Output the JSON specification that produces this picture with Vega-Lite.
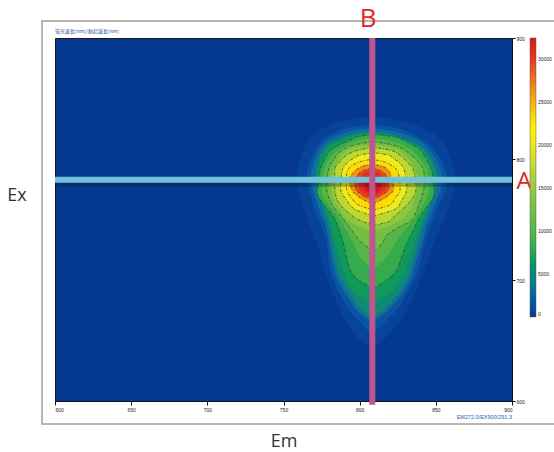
{"$schema":"https://vega.github.io/schema/vega-lite/v6.json","width":457,"height":363,"autosize":"none","padding":{"left":55,"top":38,"right":42,"bottom":51},"background":"#ffffff","view":{"fill":"#05398f","stroke":"#1a1a1a","strokeWidth":1},
"datasets":{"bands":[
{"v":800,"ex":835,"a":807.9,"b":807.9},{"v":800,"ex":832.2,"a":791.5,"b":824.3},{"v":800,"ex":824,"a":774,"b":844},{"v":800,"ex":813,"a":765.2,"b":855},{"v":800,"ex":793.7,"a":759.8,"b":861.5},{"v":800,"ex":782.6,"a":758.7,"b":862.6},{"v":800,"ex":768.9,"a":760.9,"b":860.4},{"v":800,"ex":752.3,"a":765.2,"b":856},{"v":800,"ex":730.3,"a":771.8,"b":848.4},{"v":800,"ex":702.8,"a":778.4,"b":840.7},{"v":800,"ex":675.2,"a":787.1,"b":830.9},{"v":800,"ex":653.2,"a":798.1,"b":817.8},{"v":800,"ex":644.9,"a":807.9,"b":807.9},
{"v":1500,"ex":828.1,"a":807.9,"b":807.9},{"v":1500,"ex":826.7,"a":795.9,"b":819.9},{"v":1500,"ex":824,"a":787.1,"b":828.7},{"v":1500,"ex":815.7,"a":776.2,"b":841.8},{"v":1500,"ex":804.7,"a":769.6,"b":850.6},{"v":1500,"ex":793.7,"a":766.3,"b":855.4},{"v":1500,"ex":782.6,"a":765.2,"b":857.1},{"v":1500,"ex":771.6,"a":767.4,"b":855.4},{"v":1500,"ex":757.9,"a":770.7,"b":850.6},{"v":1500,"ex":744.1,"a":775.1,"b":846.2},{"v":1500,"ex":730.3,"a":778.4,"b":842.9},{"v":1500,"ex":716.5,"a":779.5,"b":840.1},{"v":1500,"ex":702.8,"a":781.7,"b":837},{"v":1500,"ex":689,"a":786.7,"b":830.9},{"v":1500,"ex":675.2,"a":793.2,"b":824.3},{"v":1500,"ex":655,"a":807.9,"b":807.9},
{"v":3000,"ex":825.3,"a":807.9,"b":807.9},{"v":3000,"ex":823.4,"a":794.8,"b":821},{"v":3000,"ex":815.7,"a":779.5,"b":838.5},{"v":3000,"ex":804.7,"a":772.2,"b":847.3},{"v":3000,"ex":793.7,"a":769.2,"b":852.3},{"v":3000,"ex":782.6,"a":767.9,"b":854.1},{"v":3000,"ex":771.6,"a":770.1,"b":852.3},{"v":3000,"ex":757.9,"a":773.6,"b":848},{"v":3000,"ex":744.1,"a":777.9,"b":843.6},{"v":3000,"ex":730.3,"a":780,"b":841},{"v":3000,"ex":716.5,"a":781.7,"b":837.4},{"v":3000,"ex":702.8,"a":784.5,"b":834.2},{"v":3000,"ex":689,"a":790.4,"b":828.3},{"v":3000,"ex":675.2,"a":798.1,"b":818.8},{"v":3000,"ex":665,"a":807.9,"b":807.9},
{"v":5000,"ex":822.6,"a":807.9,"b":807.9},{"v":5000,"ex":820.7,"a":795.9,"b":819.9},{"v":5000,"ex":813,"a":780.6,"b":836.4},{"v":5000,"ex":804.7,"a":775.1,"b":844.4},{"v":5000,"ex":793.7,"a":771.8,"b":849.5},{"v":5000,"ex":782.6,"a":770.7,"b":851},{"v":5000,"ex":771.6,"a":772.9,"b":849.3},{"v":5000,"ex":757.9,"a":776.6,"b":845.1},{"v":5000,"ex":744.1,"a":779.6,"b":841.7},{"v":5000,"ex":730.3,"a":781.8,"b":838.5},{"v":5000,"ex":716.5,"a":783.8,"b":835.3},{"v":5000,"ex":702.8,"a":787.1,"b":832},{"v":5000,"ex":689,"a":793.7,"b":825.4},{"v":5000,"ex":675.2,"a":801.3,"b":815.6},{"v":5000,"ex":669,"a":807.9,"b":807.9},
{"v":6500,"ex":821.5,"a":807.9,"b":807.9},{"v":6500,"ex":819.6,"a":797,"b":819.9},{"v":6500,"ex":811.6,"a":781.7,"b":837.4},{"v":6500,"ex":804.7,"a":777.3,"b":842.9},{"v":6500,"ex":793.7,"a":773.6,"b":848},{"v":6500,"ex":781.3,"a":771.8,"b":849.5},{"v":6500,"ex":770.2,"a":772.9,"b":848.8},{"v":6500,"ex":757.9,"a":777.9,"b":844},{"v":6500,"ex":744.1,"a":781.3,"b":839.5},{"v":6500,"ex":730.3,"a":783.8,"b":835.7},{"v":6500,"ex":716.5,"a":787.1,"b":832},{"v":6500,"ex":702.8,"a":790.4,"b":827.6},{"v":6500,"ex":689,"a":797,"b":819.9},{"v":6500,"ex":682,"a":807.9,"b":807.9},
{"v":8000,"ex":820.4,"a":809,"b":809},{"v":8000,"ex":818.5,"a":799.2,"b":822.1},{"v":8000,"ex":815.7,"a":793.7,"b":828.7},{"v":8000,"ex":808.8,"a":782.7,"b":838.5},{"v":8000,"ex":801.9,"a":777.9,"b":842.9},{"v":8000,"ex":790.9,"a":774,"b":847.3},{"v":8000,"ex":779.9,"a":772.9,"b":848.4},{"v":8000,"ex":768.9,"a":772.9,"b":848.4},{"v":8000,"ex":752.3,"a":782.7,"b":839.6},{"v":8000,"ex":741.3,"a":786.5,"b":835.3},{"v":8000,"ex":730.3,"a":789.3,"b":830.9},{"v":8000,"ex":719.3,"a":791.5,"b":827.6},{"v":8000,"ex":708.3,"a":793.7,"b":824.3},{"v":8000,"ex":700,"a":799.2,"b":817.8},{"v":8000,"ex":693.1,"a":809,"b":809},
{"v":10000,"ex":817.1,"a":807.9,"b":807.9},{"v":10000,"ex":815.2,"a":799.2,"b":819.9},{"v":10000,"ex":810.2,"a":789.3,"b":830.9},{"v":10000,"ex":801.9,"a":781,"b":838.5},{"v":10000,"ex":790.9,"a":776.6,"b":844.4},{"v":10000,"ex":778.5,"a":775.5,"b":845.3},{"v":10000,"ex":768.9,"a":776.2,"b":844.4},{"v":10000,"ex":752.3,"a":786,"b":837},{"v":10000,"ex":741.3,"a":791.1,"b":829.8},{"v":10000,"ex":730.3,"a":795.9,"b":823.2},{"v":10000,"ex":719.3,"a":800.2,"b":817.8},{"v":10000,"ex":708.3,"a":807.9,"b":807.9},
{"v":12000,"ex":814.3,"a":809,"b":809},{"v":12000,"ex":812.4,"a":799.2,"b":818.8},{"v":12000,"ex":810.2,"a":792.6,"b":825.4},{"v":12000,"ex":806.1,"a":787.1,"b":830.9},{"v":12000,"ex":799.2,"a":782.7,"b":837.4},{"v":12000,"ex":790.9,"a":779.5,"b":841.8},{"v":12000,"ex":777.1,"a":778.4,"b":842.3},{"v":12000,"ex":768.9,"a":779.5,"b":840.7},{"v":12000,"ex":760.6,"a":782.7,"b":838.5},{"v":12000,"ex":749.6,"a":789.7,"b":834.2},{"v":12000,"ex":744.1,"a":793,"b":826.5},{"v":12000,"ex":737.2,"a":797,"b":817.8},{"v":12000,"ex":730.3,"a":801.8,"b":814.9},{"v":12000,"ex":723.4,"a":809.4,"b":809.4},
{"v":14500,"ex":811.8,"a":809,"b":809},{"v":14500,"ex":809.6,"a":795.9,"b":822.1},{"v":14500,"ex":804.7,"a":789.3,"b":828.7},{"v":14500,"ex":796.4,"a":784.9,"b":834.2},{"v":14500,"ex":782.6,"a":781,"b":838.5},{"v":14500,"ex":768.9,"a":782.3,"b":836.4},{"v":14500,"ex":757.9,"a":787.1,"b":833.1},{"v":14500,"ex":748.2,"a":793.7,"b":825.4},{"v":14500,"ex":740.1,"a":807.9,"b":807.9},
{"v":17000,"ex":809.4,"a":809,"b":809},{"v":17000,"ex":807.4,"a":799.2,"b":819.9},{"v":17000,"ex":803.3,"a":791.5,"b":826.5},{"v":17000,"ex":796.4,"a":786,"b":832},{"v":17000,"ex":790.9,"a":783.8,"b":835.3},{"v":17000,"ex":774.4,"a":783.8,"b":837},{"v":17000,"ex":763.4,"a":786.5,"b":832},{"v":17000,"ex":752.3,"a":795.9,"b":822.6},{"v":17000,"ex":748.2,"a":802.4,"b":818.8},{"v":17000,"ex":744.9,"a":809,"b":809},
{"v":20500,"ex":805.2,"a":809,"b":809},{"v":20500,"ex":803.3,"a":800.2,"b":818.8},{"v":20500,"ex":800.6,"a":795.9,"b":822.1},{"v":20500,"ex":795,"a":790.4,"b":827.6},{"v":20500,"ex":788.2,"a":788.2,"b":829.8},{"v":20500,"ex":774.4,"a":787.6,"b":830.9},{"v":20500,"ex":766.1,"a":791.5,"b":827.6},{"v":20500,"ex":759.2,"a":795.9,"b":824.3},{"v":20500,"ex":755.1,"a":803.5,"b":815.6},{"v":20500,"ex":752.9,"a":809,"b":809},
{"v":23000,"ex":799.7,"a":807.9,"b":807.9},{"v":23000,"ex":797.8,"a":800.2,"b":815.6},{"v":23000,"ex":793.7,"a":794.1,"b":822.1},{"v":23000,"ex":788.2,"a":791.5,"b":825.4},{"v":23000,"ex":774.4,"a":791.5,"b":826.5},{"v":23000,"ex":767.5,"a":794.8,"b":823.2},{"v":23000,"ex":762,"a":799.2,"b":819.9},{"v":23000,"ex":757.9,"a":809,"b":809},
{"v":26500,"ex":795.6,"a":807.9,"b":807.9},{"v":26500,"ex":793.7,"a":801.3,"b":815.6},{"v":26500,"ex":789.5,"a":796.3,"b":819.5},{"v":26500,"ex":784,"a":793.7,"b":821},{"v":26500,"ex":774.4,"a":794.8,"b":822.1},{"v":26500,"ex":768.9,"a":799.2,"b":817.8},{"v":26500,"ex":765.6,"a":803.5,"b":813.4},{"v":26500,"ex":762.8,"a":809,"b":809},
{"v":29500,"ex":792.3,"a":807.9,"b":807.9},{"v":29500,"ex":790.4,"a":802.4,"b":813.4},{"v":29500,"ex":786.8,"a":798.7,"b":817.3},{"v":29500,"ex":781.3,"a":797,"b":818.8},{"v":29500,"ex":774.4,"a":797.6,"b":818.8},{"v":29500,"ex":769.4,"a":802.4,"b":813.4},{"v":29500,"ex":766.1,"a":807.9,"b":807.9},
{"v":31000,"ex":790.9,"a":807.9,"b":807.9},{"v":31000,"ex":788.2,"a":802.9,"b":813},{"v":31000,"ex":781.3,"a":799.6,"b":816.7},{"v":31000,"ex":774.4,"a":799.8,"b":816.7},{"v":31000,"ex":770.2,"a":804.2,"b":811.6},{"v":31000,"ex":768.3,"a":807.9,"b":807.9},
{"v":32500,"ex":788.2,"a":808.6,"b":808.6},{"v":32500,"ex":781.3,"a":803.5,"b":813.8},{"v":32500,"ex":774.4,"a":803.5,"b":813.4},{"v":32500,"ex":771.1,"a":808.6,"b":808.6}
]},
"data":{"name":"bands"},
"layer":[
{"data":{"values":[{"id":"frame"}]},"mark":{"type":"rect","filled":false,"stroke":"#a39d99","strokeWidth":1.5},"encoding":{"x":{"datum":591.5,"type":"quantitative","scale":{"domain":[600,900],"nice":false,"zero":false},"axis":{"title":"Em","values":[600,650,700,750,800,850,900],"grid":false,"labelFontSize":5,"labelColor":"#222","labelFont":"Liberation Sans","labelPadding":2,"tickSize":4,"tickColor":"#111","domainColor":"#111","titleFont":"Open Sans","titleFontSize":18,"titleFontWeight":"normal","titleColor":"#333","titlePadding":20}},"x2":{"datum":945},"y":{"datum":914,"type":"quantitative","scale":{"domain":[600,900],"nice":false,"zero":false},"axis":{"orient":"right","title":"","values":[600,700,800,900],"grid":false,"labelFontSize":5,"labelColor":"#222","labelFont":"Liberation Sans","labelPadding":1,"tickSize":3,"tickColor":"#111","domainColor":"#111"}},"y2":{"datum":581}}},
{"mark":{"type":"area","orient":"horizontal","interpolate":"cardinal"},"encoding":{"y":{"field":"ex","type":"quantitative"},"x":{"field":"a","type":"quantitative","stack":null},"x2":{"field":"b"},"detail":{"field":"v","type":"nominal"},"color":{"field":"v","type":"quantitative","scale":{"domain":[0,800,1500,3000,5000,6500,8000,10000,12000,15000,17000,20000,22000,25000,28000,30000,32500],"range":["#05398f","#07439a","#0b55a0","#0f6f9e","#0f8a72","#0f9a5a","#35ab4b","#55b647","#72bf44","#94c93d","#bcd632","#eae724","#fff100","#f6b319","#ee6a1f","#e53a20","#d8151f"]},"legend":{"orient":"none","legendX":475,"legendY":0,"direction":"vertical","gradientLength":279,"gradientThickness":6,"title":null,"values":[0,5000,10000,15000,20000,25000,30000],"format":"d","labelFontSize":5,"labelColor":"#222","labelFont":"Liberation Sans","labelOffset":2,"gradientStrokeColor":"#555","gradientStrokeWidth":0.5}}}},
{"transform":[{"filter":{"field":"v","oneOf":[8000,12000,17000,20500,23000,26500,29500]}}],"mark":{"type":"line","interpolate":"cardinal","stroke":"#2a3a2a","strokeWidth":0.7,"strokeDash":[3,1.5,1,1.5]},"encoding":{"y":{"field":"ex","type":"quantitative"},"x":{"field":"a","type":"quantitative"},"order":{"field":"ex"},"detail":{"field":"v"}}},
{"transform":[{"filter":{"field":"v","oneOf":[8000,12000,17000,20500,23000,26500,29500]}}],"mark":{"type":"line","interpolate":"cardinal","stroke":"#2a3a2a","strokeWidth":0.7,"strokeDash":[3,1.5,1,1.5]},"encoding":{"y":{"field":"ex","type":"quantitative"},"x":{"field":"b","type":"quantitative"},"order":{"field":"ex"},"detail":{"field":"v"}}},
{"data":{"values":[{"id":"shadow"}]},"mark":{"type":"rule","stroke":"#001030","strokeWidth":4,"opacity":0.3},"encoding":{"x":{"datum":600,"type":"quantitative"},"x2":{"datum":900},"y":{"datum":778.8,"type":"quantitative"}}},
{"data":{"values":[{"id":"A"}]},"mark":{"type":"rule","stroke":"#72c4da","strokeWidth":6},"encoding":{"x":{"datum":600,"type":"quantitative"},"x2":{"datum":900},"y":{"datum":782.8,"type":"quantitative"}}},
{"data":{"values":[{"id":"B"}]},"mark":{"type":"rule","stroke":"#c0568f","strokeWidth":6},"encoding":{"x":{"datum":808.3,"type":"quantitative"},"y":{"datum":900,"type":"quantitative"},"y2":{"datum":597}}},
{"data":{"values":[{"t":"A"}]},"mark":{"type":"text","font":"Open Sans","fontSize":24,"color":"#e0262b"},"encoding":{"text":{"field":"t"},"x":{"datum":907.9,"type":"quantitative"},"y":{"datum":781,"type":"quantitative"}}},
{"data":{"values":[{"t":"B"}]},"mark":{"type":"text","font":"Open Sans","fontSize":26,"color":"#e0262b"},"encoding":{"text":{"field":"t"},"x":{"datum":805.5,"type":"quantitative"},"y":{"datum":915.7,"type":"quantitative"}}},
{"data":{"values":[{"t":"Ex"}]},"mark":{"type":"text","font":"Open Sans","fontSize":18,"color":"#333333"},"encoding":{"text":{"field":"t"},"x":{"datum":575,"type":"quantitative"},"y":{"datum":769.4,"type":"quantitative"}}},
{"data":{"values":[{"t":"蛍光波長(nm)/励起波長(nm)"}]},"mark":{"type":"text","font":"Noto Sans CJK JP","fontSize":5,"align":"left","color":"#1f4fa0"},"encoding":{"text":{"field":"t"},"x":{"datum":600,"type":"quantitative"},"y":{"datum":905.8,"type":"quantitative"}}},
{"data":{"values":[{"t":"EM272.0/EX900/291.3"}]},"mark":{"type":"text","font":"Liberation Sans","fontSize":5.5,"align":"right","color":"#1f5fae"},"encoding":{"text":{"field":"t"},"x":{"datum":900,"type":"quantitative"},"y":{"datum":586.8,"type":"quantitative"}}}
]}
